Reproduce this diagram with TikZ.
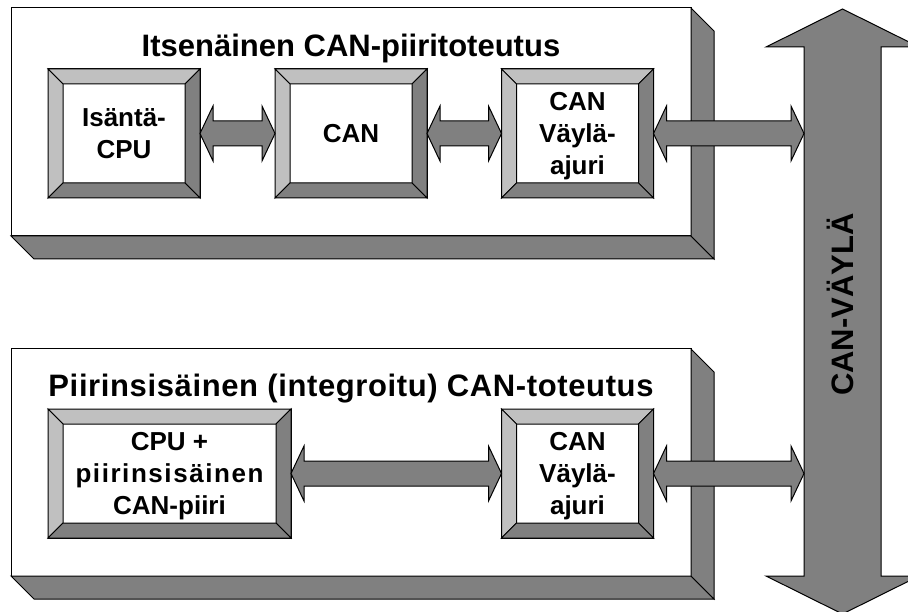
\documentclass[tikz,border=0pt]{standalone}
\usepackage{fontspec}
\setmainfont{Liberation Sans}
\usetikzlibrary{calc}
\definecolor{dg}{HTML}{808080}
\definecolor{lg}{HTML}{C0C0C0}
\newcommand\capline[1]{\rule{0pt}{18.6pt}\smash{#1}}
\newcommand\nxline[1]{\rule{0pt}{32pt}\smash{#1}}
\newcommand\boxlbl[1]{\vbox{\offinterlineskip\halign{\hfil##\hfil\cr#1\crcr}}}
\newcommand\wide[1]{{\addfontfeature{LetterSpace=6}#1}}
\tikzset{
  ln/.style={draw=black, line width=1pt, line join=miter},
  front/.style={ln, fill=white, inner sep=0pt, outer sep=0pt, minimum width=680pt, minimum height=228pt},
  depth/.style={ln, fill=dg},
  frame/.style={ln, fill=white, inner sep=0pt, outer sep=0pt, minimum height=129pt, minimum width=152pt,
    font=\fontsize{26}{32}\selectfont\bfseries},
  lit/.style={ln, fill=lg},
  drk/.style={ln, fill=dg},
  title/.style={font=\fontsize{31}{37}\selectfont\bfseries, inner sep=0pt, anchor=base},
  conn/.style={ln, fill=dg},
}
\newcommand\bevel[1]{%
  \draw[lit] (#1.north west) -- (#1.north east) -- ($(#1.north east)+(-15,15)$) -- ($(#1.north west)+(15,15)$) -- cycle;
  \draw[lit] (#1.north west) -- ($(#1.north west)+(15,15)$) -- ($(#1.south west)+(15,-15)$) -- (#1.south west) -- cycle;
  \draw[drk] (#1.north east) -- (#1.south east) -- ($(#1.south east)+(-15,-15)$) -- ($(#1.north east)+(-15,15)$) -- cycle;
  \draw[drk] (#1.south west) -- (#1.south east) -- ($(#1.south east)+(-15,-15)$) -- ($(#1.south west)+(15,-15)$) -- cycle;}
\newcommand\slab[1]{%
  \draw[depth] (#1.south west) -- (#1.south east) -- ($(#1.south east)+(23,23)$) -- ($(#1.south west)+(23,23)$) -- cycle;
  \draw[depth] (#1.north east) -- ($(#1.north east)+(23,23)$) -- ($(#1.south east)+(23,23)$) -- (#1.south east) -- cycle;}
\newcommand\dbl[2]{%
  \draw[conn] let \p1=(#1.east), \p2=(#2.west) in
    (\x1,\y1) -- (\x1+13pt,\y1+27.5pt) -- (\x1+13pt,\y1+12.5pt) -- (\x2-13pt,\y1+12.5pt) -- (\x2-13pt,\y1+27.5pt)
    -- (\x2,\y1) -- (\x2-13pt,\y1-27.5pt) -- (\x2-13pt,\y1-12.5pt) -- (\x1+13pt,\y1-12.5pt) -- (\x1+13pt,\y1-27.5pt) -- cycle;}
\begin{document}
\begin{tikzpicture}[x=1pt, y=-1pt]
  \useasboundingbox (0,0) rectangle (908,612);
  \clip (0,0) rectangle (908,612);
  % big slabs
  \node (f1) [front] at (351,122) {};
  \slab{f1}
  \node (f2) [front, minimum height=227pt] at (351,462.5) {};
  \slab{f2}
  \node (t1) [title] at (351,56.5) {Itsenäinen CAN-piiritoteutus};
  \node (t2) [title] at (351,396) {{\addfontfeature{LetterSpace=2}Piirinsisäinen (integroitu) CAN-toteutus}};
  % inner boxes
  \node (b1) [frame] at (124,133.5) {\boxlbl{\capline{Isäntä-}\cr\nxline{CPU}}};
  \bevel{b1}
  \node (b2) [frame] at (351,133.5) {\boxlbl{\capline{CAN}}};
  \bevel{b2}
  \node (b3) [frame] at (577.5,133.5) {\boxlbl{\capline{CAN}\cr\nxline{Väylä-}\cr\nxline{ajuri}}};
  \bevel{b3}
  \node (b4) [frame, minimum width=243pt] at (169.5,473.5) {\boxlbl{\capline{CPU +}\cr\nxline{\wide{piirinsisäinen}}\cr\nxline{CAN-piiri}}};
  \bevel{b4}
  \node (b5) [frame] at (577.5,473.5) {\boxlbl{\capline{CAN}\cr\nxline{Väylä-}\cr\nxline{ajuri}}};
  \bevel{b5}
  % bus
  \node (bus) [inner sep=0pt, outer sep=0pt, minimum width=77pt, minimum height=529pt] at (842.5,311.5) {};
  \draw[conn] (bus.north west) -- ($(bus.north west)+(-38,0)$) -- ($(bus.north)+(0,-38)$)
    -- ($(bus.north east)+(38,0)$) -- (bus.north east) -- (bus.south east) -- ($(bus.south east)+(38,0)$)
    -- ($(bus.south)+(0,38)$) -- ($(bus.south west)+(-38,0)$) -- (bus.south west) -- cycle;
  % connectors
  \dbl{b1}{b2}
  \dbl{b2}{b3}
  \dbl{b3}{bus}
  \dbl{b4}{b5}
  \dbl{b5}{bus}
  \node (bt) [title, rotate=90] at (853,304.5) {CAN-VÄYLÄ};
\end{tikzpicture}
\end{document}
